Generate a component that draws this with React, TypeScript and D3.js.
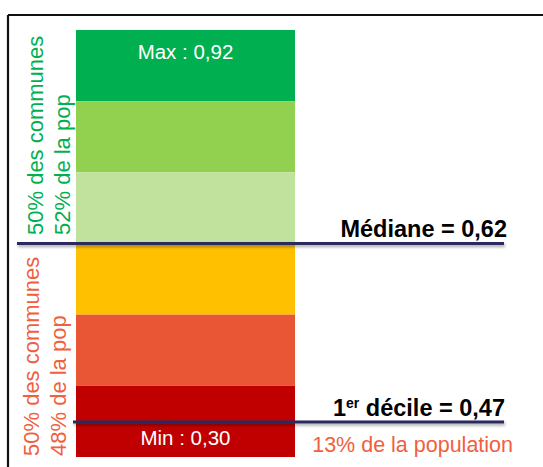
import React from "react";
import * as d3 from "d3";

const classes = ["c6", "c5", "c4", "c3", "c2", "c1"];
const classColors = ["#00b050", "#92d050", "#c0e29c", "#ffc000", "#e95636", "#c00000"];
const maxLabel = "Max : 0,92";
const minLabel = "Min : 0,30";
const markerLabels = ["Médiane = ", "décile = "];
const markerValues = [0.62, 0.47];
const markerRanks = [0.5, 0.082];
const upperTexts = ["50% des communes", "52% de la pop"];
const lowerTexts = ["50% des communes", "48% de la pop"];
const decileNote = "13% de la population";

const W = 543;
const H = 467;
const FONT = "'Liberation Sans', Arial, sans-serif";

export default function App() {
  const top = 30;
  const bottom = 457;
  const x0 = 76;
  const x1 = 295;
  const y = d3.scaleBand<string>().domain(classes).range([top, bottom]).padding(0);
  const rank = d3.scaleLinear().domain([0, 1]).range([bottom, top]);
  const fmt = (v: number) => d3.format(".2f")(v).replace(".", ",");

  const medY = rank(markerRanks[0]);
  const decY = rank(markerRanks[1]);
  const lineColor = "#29295f";
  const green = "#00b050";
  const red = "#f0603e";

  return (
    <svg width={W} height={H} style={{ position: "absolute", left: 0, top: 0, background: "#fff" }} fontFamily={FONT}>
      <defs>
        <filter id="sh" filterUnits="userSpaceOnUse" x={0} y={0} width={W} height={H}>
          <feDropShadow dx="1" dy="2" stdDeviation="1.4" floodColor="#000" floodOpacity="0.35" />
        </filter>
      </defs>
      {/* frame */}
      <line x1={8} x2={W} y1={15} y2={15} stroke="#111" strokeWidth={2.2} />
      <line x1={8} x2={8} y1={15} y2={H} stroke="#111" strokeWidth={2.2} />

      {classes.map((c, i) => (
        <rect key={c} x={x0} width={x1 - x0} y={y(c)!} height={y.bandwidth()} fill={classColors[i]} />
      ))}

      <text x={(x0 + x1) / 2} y={59} textAnchor="middle" fill="#fff" fontSize={20.5}>{maxLabel}</text>
      <text x={(x0 + x1) / 2} y={445} textAnchor="middle" fill="#fff" fontSize={20.5}>{minLabel}</text>

      {/* rotated labels */}
      {upperTexts.map((t, i) => (
        <text key={"u" + i} transform={`translate(${43 + i * 27},${235}) rotate(-90)`} fill={green} fontSize={22}>{t}</text>
      ))}
      {lowerTexts.map((t, i) => (
        <text key={"l" + i} transform={`translate(${39 + i * 27},${456}) rotate(-90)`} fill={red} fontSize={22}>{t}</text>
      ))}

      {/* marker lines */}
      <rect x={17} width={504 - 17} y={medY - 1.5} height={3} fill={lineColor} filter="url(#sh)" />
      <rect x={73} width={504 - 73} y={decY - 1.5} height={3} fill={lineColor} filter="url(#sh)" />

      <text x={507} y={medY - 7} textAnchor="end" fontWeight="bold" fontSize={23.5} fill="#000">
        {markerLabels[0] + fmt(markerValues[0])}
      </text>
      <text x={505} y={decY - 6} textAnchor="end" fontWeight="bold" fontSize={23.5} fill="#000">
        1<tspan fontSize={14} dy={-8}>er</tspan>
        <tspan dy={8}> {markerLabels[1] + fmt(markerValues[1])}</tspan>
      </text>
      <text x={513} y={452} textAnchor="end" fontSize={21.5} fill={red}>{decileNote}</text>
    </svg>
  );
}
